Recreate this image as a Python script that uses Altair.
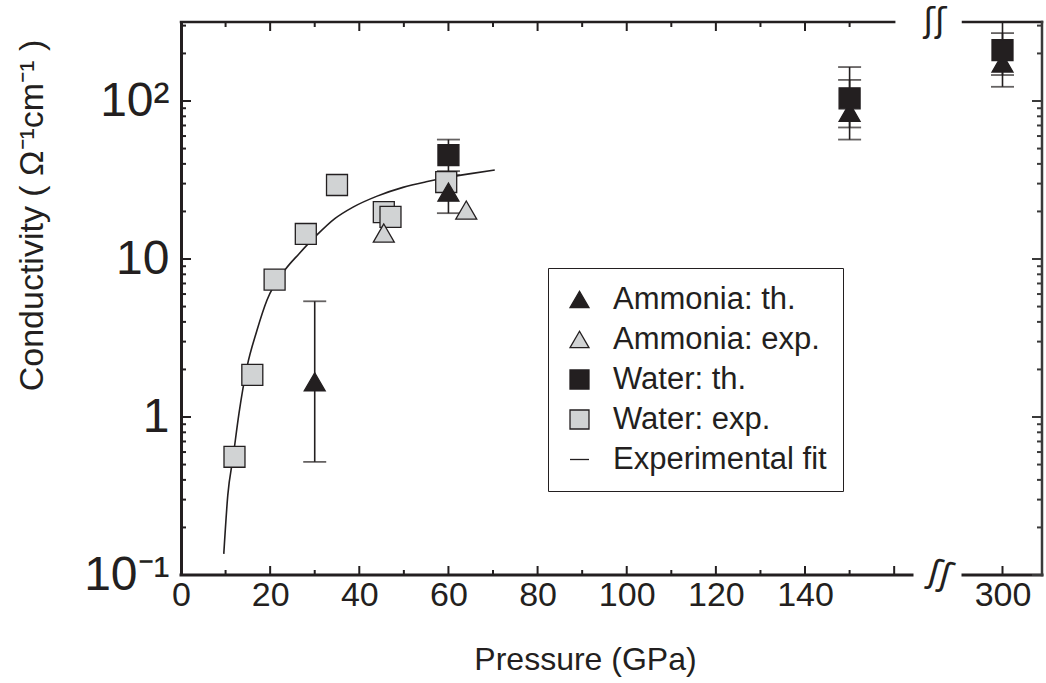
import altair as alt
import pandas as pd

# ---------------- data ----------------
water_exp_p = [12, 16, 21, 28, 35, 45.5, 47, 59.5]
water_exp_s = [0.56, 1.85, 7.4, 14.4, 29.4, 19.8, 18.5, 30.7]

ammonia_exp_p = [45.5, 64]
ammonia_exp_s = [14.6, 20.4]

ammonia_th_p = [30, 60, 150, 300]
ammonia_th_s = [1.67, 26.5, 85, 174]
ammonia_th_lo = [0.52, 19.5, 57, 123]
ammonia_th_hi = [5.4, 34, 136, 269]

water_th_p = [60, 150, 300]
water_th_s = [45.5, 104, 210]
water_th_lo = [36, 68, 146]
water_th_hi = [57, 164, 316]

fit_p = [9.6, 10.5, 11.7, 13, 14.8, 17, 19.3, 23.3, 26.5, 30.5, 34.5, 38.6, 44, 49.8, 55, 58.8, 65, 70.4]
fit_s = [0.136, 0.32, 0.56, 1.05, 2.07, 3.5, 5.5, 8.5, 10.8, 14.2, 18.0, 21.3, 25.0, 28.4, 30.8, 32.4, 34.7, 36.6]

series_names = ["Ammonia: th.", "Ammonia: exp.", "Water: th.", "Water: exp.", "Experimental fit"]

x_tick_labels = [0, 20, 40, 60, 80, 100, 120, 140, 300]
x_major_ticks = [20, 40, 60, 80, 100, 120, 140, 160, 300]
x_minor_ticks = [10, 30, 50, 70, 90, 110, 130, 150]
top_major_ticks = [20, 40, 60, 80, 100, 120, 140]
top_minor_ticks = [10, 30, 50, 70, 90, 110, 130, 150]
y_tick_labels = [0.1, 1, 10, 100]
y_major_ticks = [0.1, 1, 10, 100]
y_minor_ticks = [0.2, 0.3, 0.4, 0.5, 0.6, 0.7, 0.8, 0.9,
                 2, 3, 4, 5, 6, 7, 8, 9,
                 20, 30, 40, 50, 60, 70, 80, 90, 200, 300]

# axis segments (main panel and the broken-off 300 GPa panel)
bottom_seg_p = [0, 291]
bottom_seg_p2 = [164, 309]
top_seg_p = [0, 291]
top_seg_p2 = [160, 309]
right_axis_p = [309]

# ---------------- styling ----------------
BLACK = "#231f20"
GRAY = "#d1d3d4"
W, H = 861, 553
FONT = "Liberation Sans"

xscale = alt.Scale(domain=[0, 164, 291, 309], range=[0, 731, 782, 861], nice=False, zero=False)
yscale = alt.Scale(type="log", domain=[0.1, 316.23], nice=False)

xaxis = alt.Axis(
    values=x_tick_labels, domain=False, ticks=False, grid=False,
    labelFont=FONT, labelFontSize=34, labelColor=BLACK, labelPadding=3,
    labelFlush=False, labelOverlap=False,
    title="Pressure (GPa)", titleFont=FONT, titleFontSize=32, titleFontWeight="normal",
    titleColor=BLACK, titleX=404, titleY=94, titleAlign="center", titleBaseline="alphabetic",
)
yaxis = alt.Axis(
    values=y_tick_labels, domain=True, domainColor=BLACK, domainWidth=3,
    ticks=False, grid=False,
    labelExpr="datum.value < 0.5 ? '10\u207b\u00b9' : datum.value > 50 ? '10\u00b2' : datum.value > 5 ? '10\u2004' : '1\u2004'",
    labelFont=FONT, labelFontSize=48, labelColor=BLACK, labelPadding=12,
    labelFlush=False, labelOverlap=False, labelBaseline="middle",
    title="Conductivity ( \u03a9\u207b\u00b9cm\u207b\u00b9 )", titleFont=FONT, titleFontSize=34,
    titleFontWeight="normal", titleColor=BLACK, titleX=-149, titleY=193,
    titleAlign="center", titleBaseline="middle", titleAngle=270,
)


def X(field):
    return alt.X(field, type="quantitative", scale=xscale, axis=xaxis)


def Y(field):
    return alt.Y(field, type="quantitative", scale=yscale, axis=yaxis)


# ---------------- tables ----------------
pts = pd.concat([
    pd.DataFrame({"p": water_exp_p, "s": water_exp_s, "series": "Water: exp."}),
    pd.DataFrame({"p": ammonia_exp_p, "s": ammonia_exp_s, "series": "Ammonia: exp."}),
    pd.DataFrame({"p": ammonia_th_p, "s": ammonia_th_s, "series": "Ammonia: th."}),
    pd.DataFrame({"p": water_th_p, "s": water_th_s, "series": "Water: th."}),
], ignore_index=True)
pts["order"] = range(len(pts))

err = pd.concat([
    pd.DataFrame({"p": ammonia_th_p, "lo": ammonia_th_lo, "hi": ammonia_th_hi}),
    pd.DataFrame({"p": water_th_p, "lo": water_th_lo, "hi": water_th_hi}),
], ignore_index=True)

fit = pd.DataFrame({"p": fit_p, "s": fit_s})

# ---------------- layers ----------------
bottom_lines = alt.Chart(pd.DataFrame({"p": bottom_seg_p, "p2": bottom_seg_p2})).mark_rule(
    color=BLACK, strokeWidth=3, strokeCap="square"
).encode(x=X("p"), x2="p2", y=alt.value(H))

top_lines = alt.Chart(pd.DataFrame({"p": top_seg_p, "p2": top_seg_p2})).mark_rule(
    color=BLACK, strokeWidth=2.5, strokeCap="square"
).encode(x=X("p"), x2="p2", y=alt.value(0))

right_axis = alt.Chart(pd.DataFrame({"p": right_axis_p})).mark_rule(
    color="#3a3a3a", strokeWidth=2.5, strokeCap="square"
).encode(x=X("p"), y=alt.value(0), y2=alt.value(H))

bx_major = alt.Chart(pd.DataFrame({"p": x_major_ticks})).mark_rule(color=BLACK, strokeWidth=2).encode(
    x=X("p"), y=alt.value(H), y2=alt.value(H - 9))
bx_minor = alt.Chart(pd.DataFrame({"p": x_minor_ticks})).mark_rule(color=BLACK, strokeWidth=2).encode(
    x=X("p"), y=alt.value(H), y2=alt.value(H - 5))
tx_major = alt.Chart(pd.DataFrame({"p": top_major_ticks})).mark_rule(color=BLACK, strokeWidth=2).encode(
    x=X("p"), y=alt.value(0), y2=alt.value(9))
tx_minor = alt.Chart(pd.DataFrame({"p": top_minor_ticks})).mark_rule(color=BLACK, strokeWidth=2).encode(
    x=X("p"), y=alt.value(0), y2=alt.value(5))
ly_major = alt.Chart(pd.DataFrame({"s": y_major_ticks})).mark_rule(color=BLACK, strokeWidth=2).encode(
    y=Y("s"), x=alt.value(0), x2=alt.value(10))
ly_minor = alt.Chart(pd.DataFrame({"s": y_minor_ticks})).mark_rule(color=BLACK, strokeWidth=2).encode(
    y=Y("s"), x=alt.value(0), x2=alt.value(5))
ry_major = alt.Chart(pd.DataFrame({"s": y_major_ticks})).mark_rule(color="#3a3a3a", strokeWidth=2).encode(
    y=Y("s"), x=alt.value(W), x2=alt.value(W - 10))
ry_minor = alt.Chart(pd.DataFrame({"s": y_minor_ticks})).mark_rule(color="#3a3a3a", strokeWidth=2).encode(
    y=Y("s"), x=alt.value(W), x2=alt.value(W - 5))

fit_line = alt.Chart(fit).mark_line(color=BLACK, strokeWidth=1.6, interpolate="monotone").encode(
    x=X("p"), y=Y("s"))

err_rule = alt.Chart(err).mark_rule(color=BLACK, strokeWidth=1.6).encode(
    x=X("p"), y=Y("lo"), y2="hi")
err_caps = alt.Chart(err).transform_fold(["lo", "hi"], as_=["k", "s"]).mark_tick(
    orient="horizontal", color=BLACK, size=23, thickness=1.8
).encode(x=X("p"), y=Y("s:Q"))

legend = alt.Legend(
    title=None, orient="none", legendX=367, legendY=246,
    labelFont=FONT, labelFontSize=31, labelColor=BLACK, labelOffset=18, labelLimit=500,
    symbolSize=360, symbolStrokeWidth=1.3,
    rowPadding=8, padding=16, strokeColor=BLACK, fillColor="white",
)
points = alt.Chart(pts).mark_point(
    filled=True, size=440, strokeWidth=1.3, opacity=1
).encode(
    x=X("p"), y=Y("s"),
    shape=alt.Shape("series:N", scale=alt.Scale(
        domain=series_names,
        range=["triangle-up", "triangle-up", "square", "square", "M-1,0L1,0"]), legend=legend),
    fill=alt.Fill("series:N", scale=alt.Scale(
        domain=series_names,
        range=[BLACK, GRAY, BLACK, GRAY, "transparent"]), legend=legend),
    stroke=alt.Stroke("series:N", scale=alt.Scale(
        domain=series_names,
        range=[BLACK, BLACK, BLACK, BLACK, BLACK]), legend=legend),
    order=alt.Order("order:Q"),
)

break_bottom = alt.Chart(pd.DataFrame({"t": ["\u0283\u0283"]})).mark_text(
    font="DejaVu Sans", fontSize=34, color=BLACK, angle=15
).encode(text="t:N", x=alt.value(759), y=alt.value(H))
break_top = alt.Chart(pd.DataFrame({"t": ["\u0283\u0283"]})).mark_text(
    font="DejaVu Sans", fontSize=34, color=BLACK
).encode(text="t:N", x=alt.value(754), y=alt.value(0))

chart = alt.layer(
    fit_line, err_rule, err_caps, points,
    bottom_lines, top_lines, right_axis,
    bx_major, bx_minor, tx_major, tx_minor, ly_major, ly_minor, ry_major, ry_minor,
    break_bottom, break_top,
).properties(
    width=W, height=H,
    autosize=alt.AutoSizeParams(type="none"),
    padding={"left": 181, "top": 22, "right": 4, "bottom": 108},
    background="white",
).configure_view(stroke=None)

chart.save("out.html", embed_options={"renderer": "svg", "actions": False})
